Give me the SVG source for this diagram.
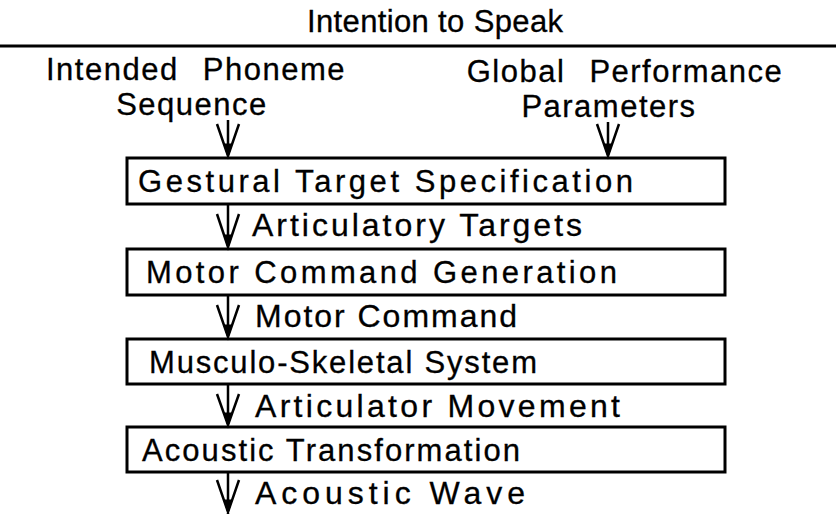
<svg xmlns="http://www.w3.org/2000/svg" width="836" height="514" viewBox="0 0 836 514">
<style>
text{font-family:"Liberation Sans",Arial,sans-serif;font-size:31px;fill:#000;stroke:#000;stroke-width:0.3}
.lbl{font-size:32px}
.c{text-anchor:middle}
.top{letter-spacing:1.5px;word-spacing:14px}
.rule{stroke:#000;stroke-width:3}
.box{fill:none;stroke:#000;stroke-width:3}
.ln{stroke:#000;stroke-width:2.5;fill:none}
.hd{fill:#000;stroke:#000;stroke-width:1}
</style>
<rect width="836" height="514" fill="#fff"/>
<g id="header">
<text class="c" x="435" y="32" textLength="256" lengthAdjust="spacing">Intention to Speak</text>
<line class="rule" x1="0" y1="46" x2="836" y2="46"/>
</g>
<g id="phoneme">
<text class="c top" x="196" y="80">Intended Phoneme</text>
<text class="c top" x="192" y="115">Sequence</text>
</g>
<g id="global">
<text class="c top" x="625" y="82">Global Performance</text>
<text class="c top" x="609" y="117">Parameters</text>
</g>
<g id="gestural"><rect class="box" x="127" y="158" width="598" height="46"/><text x="138" y="192" textLength="495" lengthAdjust="spacing">Gestural Target Specification</text></g>
<g id="motor"><rect class="box" x="127" y="249" width="598" height="46"/><text x="146" y="283" textLength="471" lengthAdjust="spacing">Motor Command Generation</text></g>
<g id="musculo"><rect class="box" x="127" y="339" width="598" height="45"/><text x="149" y="373" textLength="388" lengthAdjust="spacing">Musculo-Skeletal System</text></g>
<g id="acoustic"><rect class="box" x="127" y="427" width="598" height="45"/><text x="142" y="461" textLength="378" lengthAdjust="spacing">Acoustic Transformation</text></g>
<g id="connectors">
<path class="ln" d="M228 120V156M217 124L228 156L239 124"/>
<path class="hd" d="M224 144L228 157L232 144Z"/>
<path class="ln" d="M608 122V156M597 124L608 156L619 124"/>
<path class="hd" d="M604 144L608 157L612 144Z"/>
<path class="ln" d="M228 205V247M217 214L228 247L239 214"/>
<path class="hd" d="M224 235L228 248L232 235Z"/>
<path class="ln" d="M228 296V337M217 305L228 337L239 305"/>
<path class="hd" d="M224 325L228 338L232 325Z"/>
<path class="ln" d="M228 385V425M217 394L228 425L239 394"/>
<path class="hd" d="M224 413L228 426L232 413Z"/>
<path class="ln" d="M228 473V514M217 480L228 512L239 480"/>
<path class="hd" d="M224 500L228 513L232 500Z"/>
<text class="lbl" x="252" y="236" textLength="330" lengthAdjust="spacing">Articulatory Targets</text>
<text class="lbl" x="255" y="327" textLength="262" lengthAdjust="spacing">Motor Command</text>
<text class="lbl" x="255" y="417" textLength="365" lengthAdjust="spacing">Articulator Movement</text>
<text class="lbl" x="255" y="504" textLength="270" lengthAdjust="spacing">Acoustic Wave</text>
</g>
</svg>
